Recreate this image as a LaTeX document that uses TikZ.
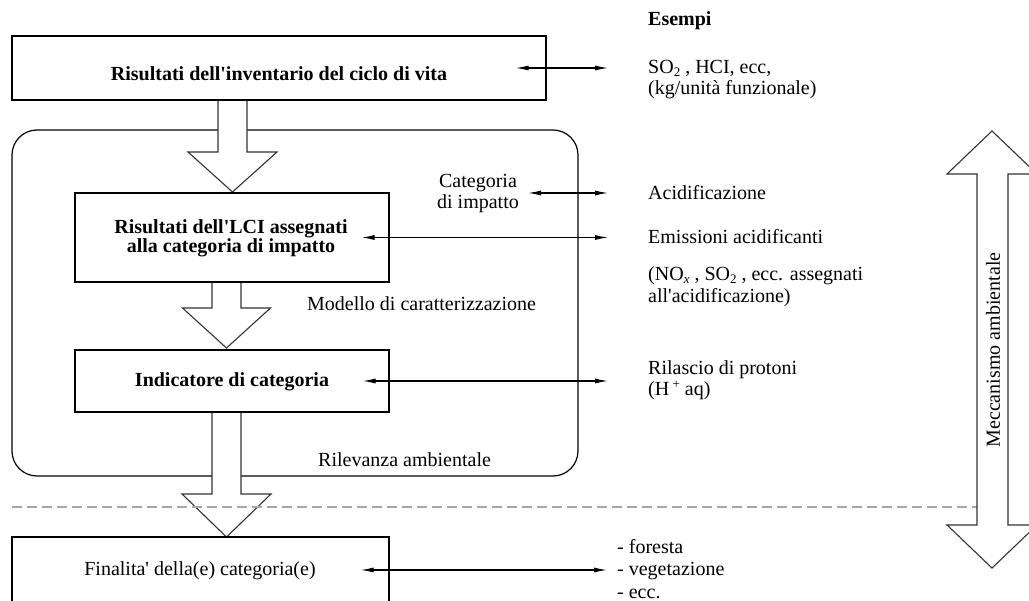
\documentclass[tikz,border=0pt]{standalone}
\usepackage{fontspec}
\setmainfont{Liberation Serif}
\usetikzlibrary{arrows.meta,calc}

% small lowered / raised indices in the running font
\newcommand\lowidx[1]{\raisebox{-3pt}{\fontsize{13}{13}\selectfont #1}}
\newcommand\upidx[1]{\raisebox{0.8ex}{\fontsize{13}{13}\selectfont #1}}
\newcommand\aps{\textquotesingle}

% hollow downward block arrow: x centre, y start, y of head base, y tip, half shaft, half head
\newcommand\fatdown[6]{%
  \draw[fat] (#1-#5,#2) -- (#1-#5,#3) -- (#1-#6,#3) -- (#1,#4)
    -- (#1+#6,#3) -- (#1+#5,#3) -- (#1+#5,#2);}

\begin{document}
\begin{tikzpicture}[x=1pt,y=-1pt,
  every node/.style={inner sep=0pt, font=\fontsize{20}{22}\selectfont},
  box/.style={draw, line width=1.2pt, rectangle},
  txt/.style={anchor=base},
  btxt/.style={anchor=base, font=\fontsize{20}{22}\selectfont\bfseries},
  ltxt/.style={anchor=base west},
  dbl/.style={line width=1.1pt, {Latex[length=13pt,width=5pt]}-{Latex[length=13pt,width=5pt]}},
  fat/.style={draw=black!80, line width=1.1pt, fill=white, line join=miter},
  sep/.style={draw=black!35, line width=1.6pt, dash pattern=on 10pt off 5pt}
]
\useasboundingbox (0,0) rectangle (1029,601);

% frame of the environmental relevance zone
\node[draw, line width=1.2pt, rounded corners=25pt, minimum width=566pt,
      minimum height=346pt] (env) at (295,303) {};

% hollow flow arrows between the stages
\fatdown{232.5}{100}{152}{192}{14.5}{44.5}
\fatdown{226.5}{282}{308}{348}{14.5}{44}
\fatdown{226.5}{412}{494}{537}{14.5}{44.5}

% stage boxes
\node[box, minimum width=534pt, minimum height=64pt] (inv) at (279,68) {};
\node[box, minimum width=314pt, minimum height=89pt] (lci) at (232,237.5) {};
\node[box, minimum width=314pt, minimum height=62pt] (ind) at (232,381) {};
\node[box, minimum width=377pt, minimum height=66pt] (fin) at (200.5,570) {};

\node[btxt] (t-inv) at (279,81) {Risultati dell\aps inventario del ciclo di vita};
\node[btxt] (t-lci1) at (231,234) {Risultati dell\aps LCI assegnati};
\node[btxt] (t-lci2) at (231,253) {alla categoria di impatto};
\node[btxt] (t-ind) at (232,387) {Indicatore di categoria};
\node[txt] (t-fin) at (200,576) {Finalita\aps{} della(e) categoria(e)};

% boundary of the environmental relevance
\coordinate (sepl) at (12,507);
\coordinate (sepr) at (977,507);
\draw[sep] (sepl) -- (sepr);

% environmental mechanism, double block arrow
\draw[fat] (992,131) -- (947,174) -- (977,174) -- (977,525) -- (947,525)
  -- (992,568) -- (1037,525) -- (1008,525) -- (1008,174) -- (1037,174) -- cycle;
\node[rotate=90] (mecc) at (993,350) {Meccanismo ambientale};

% labels inside the frame
\node[txt] (cat1) at (478,188) {Categoria};
\node[txt] (cat2) at (478,209) {di impatto};
\node[ltxt] (mod) at (307,311) {Modello di caratterizzazione};
\node[ltxt] (rel) at (318,467) {Rilevanza ambientale};

% examples column
\node[ltxt, font=\fontsize{20}{22}\selectfont\bfseries] (esempi) at (648,26) {Esempi};
\node[ltxt] (ex1a) at (648,74) {SO\lowidx{2} , HCI, ecc,};
\node[ltxt] (ex1b) at (648,95) {(kg/unità funzionale)};
\node[ltxt] (ex2) at (648,200) {Acidificazione};
\node[ltxt] (ex3a) at (648,244) {Emissioni acidificanti};
\node[ltxt] (ex3b) at (648,281) {(NO\lowidx{\itshape x} , SO\lowidx{2} , ecc. assegnati};
\node[ltxt] (ex3c) at (648,303) {all\aps acidificazione)};
\node[ltxt] (ex4a) at (648,375) {Rilascio di protoni};
\node[ltxt] (ex4b) at (648,396) {(H\,\upidx{+} aq)};
\node[ltxt] (ex5a) at (617,554) {- foresta};
\node[ltxt] (ex5b) at (617,576) {- vegetazione};
\node[ltxt] (ex5c) at (617,598) {- ecc.};

% link arrows
\coordinate (e1) at (608,68);
\coordinate (c0) at (528,193);
\coordinate (e2) at (608,193);
\coordinate (e3) at (608,237.5);
\coordinate (e4) at (608,381);
\coordinate (e5) at (607,570);
\draw[dbl] ([xshift=-31pt]inv.east) -- (e1);
\draw[dbl] (c0) -- (e2);
\draw[dbl] ([xshift=-28pt]lci.east) -- (e3);
\draw[dbl] ([xshift=-27pt]ind.east) -- (e4);
\draw[dbl] ([xshift=-29pt]fin.east) -- (e5);
\end{tikzpicture}
\end{document}
